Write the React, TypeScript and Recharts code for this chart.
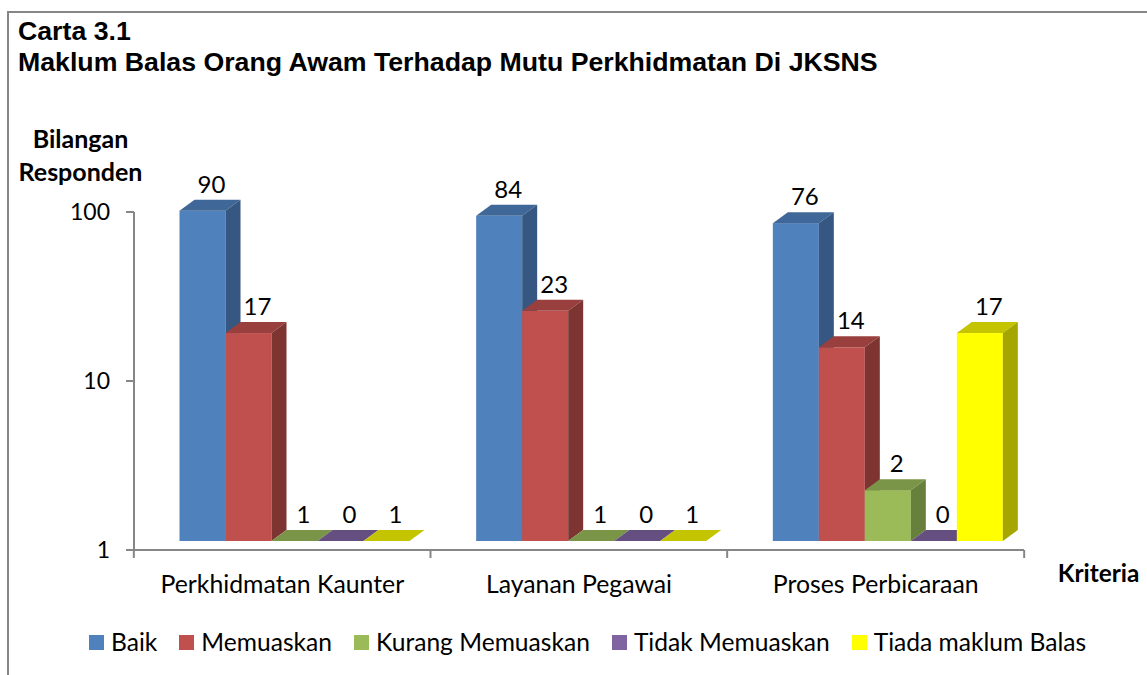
import { BarChart, Bar, XAxis, YAxis, Legend } from 'recharts'

const categories = ['Perkhidmatan Kaunter', 'Layanan Pegawai', 'Proses Perbicaraan']
const baik = [90, 84, 76]
const memuaskan = [17, 23, 14]
const kurangMemuaskan = [1, 1, 2]
const tidakMemuaskan = [0, 0, 0]
const tiadaMaklumBalas = [1, 1, 17]
const yTicks = [1, 10, 100]

const data = categories.map((name, i) => ({
  name,
  baik: baik[i],
  memuaskan: memuaskan[i],
  kurang: kurangMemuaskan[i],
  tidak: tidakMemuaskan[i],
  tiada: tiadaMaklumBalas[i],
}))

const series = [
  { key: 'baik', name: 'Baik', front: '#4F81BD', top: '#3F6797', side: '#355782' },
  { key: 'memuaskan', name: 'Memuaskan', front: '#C0504D', top: '#993F3D', side: '#7E3532' },
  { key: 'kurang', name: 'Kurang Memuaskan', front: '#9BBB59', top: '#7A9548', side: '#67803B' },
  { key: 'tidak', name: 'Tidak Memuaskan', front: '#8064A2', top: '#654F80', side: '#54426B' },
  { key: 'tiada', name: 'Tiada maklum Balas', front: '#FFFF00', top: '#C4C400', side: '#A6A600' },
]

const FONT = 'Lato, Carlito, sans-serif'
const AXIS_COLOR = '#868686'
const DEPTH_X = 15
const DEPTH_Y = 11
const SHIFT_X = 12.5
const SHIFT_Y = -9

function make3dBar(s: (typeof series)[number]) {
  return function Bar3d(props: any) {
    const x = props.x + SHIFT_X
    const y = props.y + SHIFT_Y
    const w = props.width
    const bottom = y + props.height
    return (
      <g>
        <rect x={x} y={y} width={w} height={props.height} fill={s.front} />
        <polygon
          points={`${x},${y} ${x + w},${y} ${x + w + DEPTH_X},${y - DEPTH_Y} ${x + DEPTH_X},${y - DEPTH_Y}`}
          fill={s.top}
        />
        <polygon
          points={`${x + w},${y} ${x + w + DEPTH_X},${y - DEPTH_Y} ${x + w + DEPTH_X},${bottom - DEPTH_Y} ${x + w},${bottom}`}
          fill={s.side}
        />
        <text
          x={x + w / 2 + 9}
          y={y - DEPTH_Y - 7}
          textAnchor="middle"
          fontFamily={FONT}
          fontSize={24}
          fill="#000"
        >
          {props.payload[s.key]}
        </text>
      </g>
    )
  }
}

function CategoryTick(props: any) {
  const { x, payload, index } = props
  const half = 148.5
  return (
    <g>
      <line x1={x - half} x2={x - half} y1={550} y2={558} stroke={AXIS_COLOR} strokeWidth={2} />
      {index === categories.length - 1 && (
        <line x1={x + half} x2={x + half} y1={550} y2={558} stroke={AXIS_COLOR} strokeWidth={2} />
      )}
      <text x={x} y={593} textAnchor="middle" fontFamily={FONT} fontSize={24.8} fill="#000">
        {payload.value}
      </text>
    </g>
  )
}

function LegendRow() {
  return (
    <div
      style={{
        display: 'flex',
        fontFamily: FONT,
        fontSize: 24.6,
        lineHeight: '30px',
        color: '#000',
        whiteSpace: 'nowrap',
        position: 'absolute',
        left: 89,
        top: 627,
        gap: 22,
      }}
    >
      {series.map((s) => (
        <span key={s.key} style={{ display: 'flex', alignItems: 'center', gap: 7 }}>
          <span style={{ width: 15, height: 15, background: s.front, display: 'inline-block' }} />
          {s.name}
        </span>
      ))}
    </div>
  )
}

export default function App() {
  return (
    <div style={{ position: 'absolute', left: 0, top: 0, width: 1147, height: 675, background: '#fff' }}>
      <BarChart
        width={1147}
        height={675}
        data={data}
        barSize={46}
        barGap={0}
        margin={{ top: 212, right: 123, bottom: 85, left: 74 }}
      >
        <polyline points="8,675 8,12 1147,12" fill="none" stroke="#868686" strokeWidth={2} />
        <text x={18} y={40} fontFamily="Liberation Sans" fontWeight="bold" fontSize={26.7}>
          Carta 3.1
        </text>
        <text x={18} y={71} fontFamily="Liberation Sans" fontWeight="bold" fontSize={26.7}>
          Maklum Balas Orang Awam Terhadap Mutu Perkhidmatan Di JKSNS
        </text>
        <text x={80.5} y={148} textAnchor="middle" fontFamily={FONT} fontWeight="bold" fontSize={25}>
          Bilangan
        </text>
        <text x={80.5} y={181} textAnchor="middle" fontFamily={FONT} fontWeight="bold" fontSize={25}>
          Responden
        </text>
        <text x={1098.5} y={582} textAnchor="middle" fontFamily={FONT} fontWeight="bold" fontSize={24.4}>
          Kriteria
        </text>
        <XAxis
          dataKey="name"
          height={40}
          interval={0}
          tickLine={false}
          axisLine={{ stroke: AXIS_COLOR, strokeWidth: 2 }}
          tick={<CategoryTick />}
        />
        <YAxis
          width={60}
          scale="log"
          domain={[1, 100]}
          ticks={yTicks}
          axisLine={{ stroke: AXIS_COLOR, strokeWidth: 2 }}
          tickLine={{ stroke: AXIS_COLOR, strokeWidth: 2 }}
          tickSize={8}
          tickMargin={16}
          tick={{ fontFamily: FONT, fontSize: 23, fill: '#000' }}
        />
        {series.map((s) => (
          <Bar
            key={s.key}
            name={s.name}
            dataKey={(d: any) => Math.max(d[s.key], 1)}
            fill={s.front}
            isAnimationActive={false}
            shape={make3dBar(s)}
          />
        ))}
        <Legend content={<LegendRow />} wrapperStyle={{ position: 'static' }} />
      </BarChart>
    </div>
  )
}
